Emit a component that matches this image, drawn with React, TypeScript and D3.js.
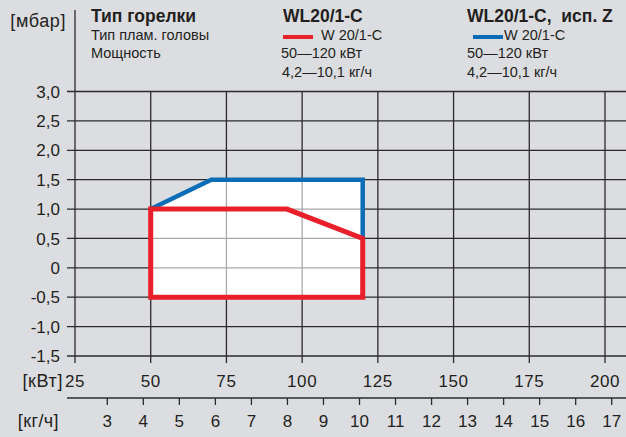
import * as d3 from "d3";

// burner working field: WL20/1-C
const kwTicks = [25, 50, 75, 100, 125, 150, 175, 200];
const mbarTicks = [-1.5, -1.0, -0.5, 0, 0.5, 1.0, 1.5, 2.0, 2.5, 3.0];
const kgTicks = [3, 4, 5, 6, 7, 8, 9, 10, 11, 12, 13, 14, 15, 16, 17];

// red field: W 20/1-C
const redKw = [50, 50, 95, 120, 120];
const redMbar = [-0.5, 1.0, 1.0, 0.5, -0.5];
// blue field: W 20/1-C, исп. Z
const blueKw = [50, 70, 120, 120];
const blueMbar = [1.0, 1.5, 1.5, 0.5];

const W = 626;
const H = 437;
const BG = "#dcdde0";
const INK = "#231f20";
const RED = "#e9202a";
const BLUE = "#0b6db5";
const FONT = "'Liberation Sans', Arial, Helvetica, sans-serif";

const fmt = (v: number) => (v === 0 ? "0" : v.toFixed(1).replace(".", ","));

export default function App() {
  const x = d3.scaleLinear().domain([25, 200]).range([75, 605]);
  const y = d3.scaleLinear().domain([-1.5, 3]).range([356, 91.5]);
  const kg = d3.scaleLinear().domain([3, 17]).range([107.3, 611.7]);

  const line = d3
    .line<[number, number]>()
    .x((d) => x(d[0]))
    .y((d) => y(d[1]));

  const red: [number, number][] = redKw.map((k, i) => [k, redMbar[i]]);
  const blue: [number, number][] = blueKw.map((k, i) => [k, blueMbar[i]]);
  const redPath = line(red) + "Z";
  const bluePath = line(blue) + "";
  const blueFill = line(blue) + "Z";

  const gridBottom = 363;
  const vLines = kwTicks.slice(1);

  return (
    <svg
      width={W}
      height={H}
      style={{ position: "absolute", left: 0, top: 0, background: BG }}
      fontFamily={FONT}
    >
      <defs>
        <clipPath id="field">
          <path d={redPath} />
          <path d={blueFill} />
        </clipPath>
      </defs>
      <rect width={W} height={H} fill={BG} />

      {/* dark grid */}
      <g stroke="#2b2b2b" strokeWidth={1.3}>
        {mbarTicks.map((t) => (
          <line key={"h" + t} x1={67} x2={W} y1={y(t)} y2={y(t)} />
        ))}
        {vLines.map((t) => (
          <line key={"v" + t} x1={x(t)} x2={x(t)} y1={y(3)} y2={gridBottom} />
        ))}
        <line x1={x(25)} x2={x(25)} y1={10} y2={gridBottom} />
      </g>

      {/* white working field with light grid */}
      <path d={redPath} fill="#fff" />
      <path d={blueFill} fill="#fff" />
      <g stroke="#a9a9a9" strokeWidth={1.3} clipPath="url(#field)">
        {mbarTicks.map((t) => (
          <line key={"lh" + t} x1={67} x2={W} y1={y(t)} y2={y(t)} />
        ))}
        {vLines.map((t) => (
          <line key={"lv" + t} x1={x(t)} x2={x(t)} y1={y(3)} y2={gridBottom} />
        ))}
      </g>

      <path d={bluePath} fill="none" stroke={BLUE} strokeWidth={4.5} strokeLinejoin="miter" />
      <path d={redPath} fill="none" stroke={RED} strokeWidth={5} strokeLinejoin="miter" />

      {/* y labels */}
      <g fill={INK} fontSize={17} textAnchor="end">
        {mbarTicks.map((t) => (
          <text key={"yl" + t} x={60} y={y(t)} dy="0.36em">
            {fmt(t)}
          </text>
        ))}
      </g>
      <text x={66} y={21} dy="0.36em" fontSize={18} letterSpacing={0.6} textAnchor="end" fill={INK}>
        [мбар]
      </text>

      {/* kW labels */}
      <text x={63} y={381} dy="0.36em" fontSize={18} letterSpacing={0.6} textAnchor="end" fill={INK}>
        [кВт]
      </text>
      <g fill={INK} fontSize={17} textAnchor="middle" letterSpacing={0.6}>
        {kwTicks.map((t) => (
          <text key={"xl" + t} x={x(t)} y={381} dy="0.36em">
            {t}
          </text>
        ))}
      </g>

      {/* kg/h axis */}
      <line x1={67} x2={W} y1={398} y2={398} stroke="#2b2b2b" strokeWidth={1.3} />
      <g stroke="#2b2b2b" strokeWidth={1.3}>
        {kgTicks.map((t) => (
          <line key={"kt" + t} x1={kg(t)} x2={kg(t)} y1={398} y2={405} />
        ))}
      </g>
      <text x={59} y={421} dy="0.36em" fontSize={18} letterSpacing={0.4} textAnchor="end" fill={INK}>
        [кг/ч]
      </text>
      <g fill={INK} fontSize={17} textAnchor="middle">
        {kgTicks.map((t) => (
          <text key={"kl" + t} x={kg(t)} y={421} dy="0.36em">
            {t}
          </text>
        ))}
      </g>

      {/* legend */}
      <g fill={INK} fontSize={14.5}>
        <text x={91} y={16} dy="0.36em" fontWeight="bold" fontSize={17.5}>
          Тип горелки
        </text>
        <text x={91} y={35} dy="0.36em">Тип плам. головы</text>
        <text x={91} y={53} dy="0.36em">Мощность</text>

        <text x={283} y={16} dy="0.36em" fontWeight="bold" fontSize={17.5}>
          WL20/1-C
        </text>
        <line x1={283} x2={313} y1={37} y2={37} stroke={RED} strokeWidth={4} />
        <text x={321} y={35} dy="0.36em">W 20/1-C</text>
        <text x={281} y={53} dy="0.36em">50—120 кВт</text>
        <text x={282} y={72} dy="0.36em">4,2—10,1 кг/ч</text>

        <text x={467} y={16} dy="0.36em" fontWeight="bold" fontSize={17.5} style={{ whiteSpace: "pre" }}>
          {"WL20/1-C,  исп. Z"}
        </text>
        <line x1={473} x2={503} y1={37} y2={37} stroke={BLUE} strokeWidth={4} />
        <text x={504} y={35} dy="0.36em">W 20/1-C</text>
        <text x={467} y={53} dy="0.36em">50—120 кВт</text>
        <text x={467} y={72} dy="0.36em">4,2—10,1 кг/ч</text>
      </g>
    </svg>
  );
}
